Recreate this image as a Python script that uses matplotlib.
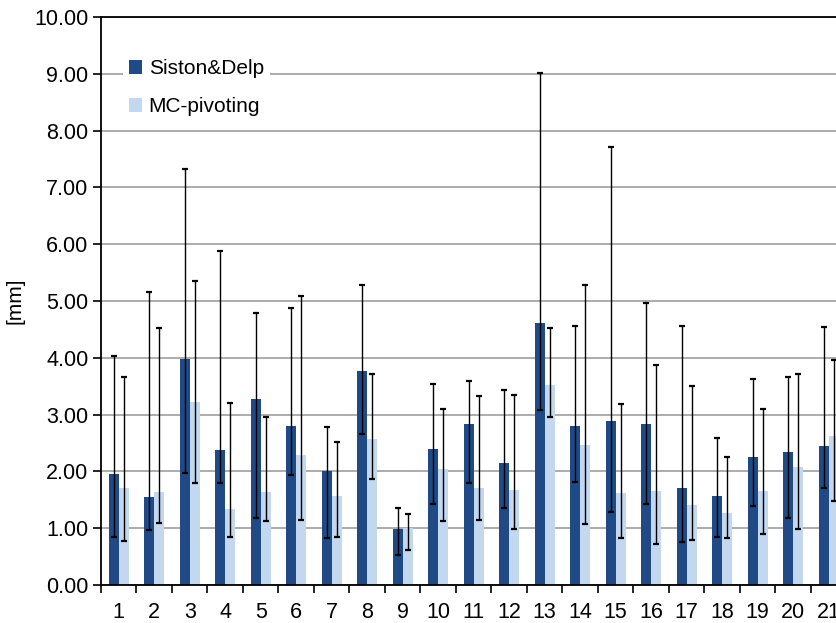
import matplotlib
matplotlib.use("Agg")
import matplotlib.pyplot as plt
import numpy as np
from matplotlib.patches import Patch

plt.rcParams['font.family'] = ['Liberation Sans', 'DejaVu Sans']

#* data (mean, lower end, upper end of the error bar)
subjects = [str(i) for i in range(1, 22)]

siston_mean = [1.95, 1.55, 3.98, 2.37, 3.28, 2.80, 2.01, 3.76, 0.99, 2.39, 2.83,
               2.14, 4.62, 2.80, 2.89, 2.83, 1.70, 1.57, 2.26, 2.34, 2.44]
siston_low = [0.84, 0.97, 1.97, 1.80, 1.18, 1.94, 0.82, 2.66, 0.52, 1.43, 1.79,
              1.36, 3.08, 1.81, 1.29, 1.43, 0.75, 0.85, 1.39, 1.18, 1.70]
siston_high = [4.03, 5.16, 7.33, 5.88, 4.79, 4.88, 2.79, 5.28, 1.35, 3.54, 3.60,
               3.43, 9.01, 4.56, 7.71, 4.97, 4.56, 2.58, 3.62, 3.66, 4.54]

mc_mean = [1.70, 1.64, 3.22, 1.34, 1.63, 2.28, 1.57, 2.57, 1.00, 2.04, 1.70,
           1.68, 3.52, 2.46, 1.62, 1.66, 1.41, 1.26, 1.66, 2.07, 2.63]
mc_low = [0.77, 1.10, 1.80, 0.84, 1.12, 1.14, 0.84, 1.87, 0.62, 1.12, 1.14,
          0.99, 2.95, 1.08, 0.82, 0.73, 0.79, 0.82, 0.89, 0.99, 1.48]
mc_high = [3.67, 4.53, 5.35, 3.21, 2.95, 5.09, 2.52, 3.71, 1.25, 3.10, 3.33,
           3.35, 4.52, 5.28, 3.19, 3.88, 3.50, 2.25, 3.10, 3.71, 3.97]

dark_blue = "#1f4a86"
light_blue = "#c3d7ef"

fig = plt.figure(figsize=(8.36, 6.23), dpi=100)
#* the right end of the plot runs past the picture edge, like the reference
ax = fig.add_axes([0.1208, 0.061, 0.8917, 0.9117])

x = np.arange(1, len(subjects) + 1)
w = 0.28

s_mean = np.array(siston_mean)
m_mean = np.array(mc_mean)
s_err = [s_mean - np.array(siston_low), np.array(siston_high) - s_mean]
m_err = [m_mean - np.array(mc_low), np.array(mc_high) - m_mean]

ax.bar(x - w / 2, s_mean, w, color=dark_blue, zorder=2)
ax.bar(x + w / 2, m_mean, w, color=light_blue, zorder=2)

ax.errorbar(x - w / 2, s_mean, yerr=s_err, fmt="none", ecolor="black",
            elinewidth=1.0, capsize=2.5, capthick=1.6, zorder=3)
ax.errorbar(x + w / 2, m_mean, yerr=m_err, fmt="none", ecolor="black",
            elinewidth=1.0, capsize=2.5, capthick=1.6, zorder=3)

ax.set_xlim(0.5, len(subjects) + 0.5)
ax.set_ylim(0, 10)
ax.set_yticks(np.arange(0, 11, 1))
ax.set_yticklabels([f"{v:.2f}" for v in np.arange(0, 11, 1)])
ax.set_xticks(x)
ax.set_xticklabels(subjects)
ax.set_xticks(np.arange(0.5, len(subjects) + 1, 1), minor=True)

ax.tick_params(axis="x", which="major", length=0, labelsize=15.5, pad=12)
ax.tick_params(axis="x", which="minor", length=6, width=1.2, direction="out")
ax.tick_params(axis="y", length=6, width=1.2, labelsize=15.5, pad=3)

ax.yaxis.grid(True, color="#a6a6a6", linewidth=1.3, zorder=0)
ax.set_axisbelow(True)

for side in ["left", "bottom", "top"]:
    ax.spines[side].set_color("black")
    ax.spines[side].set_linewidth(1.3)
ax.spines["right"].set_visible(False)

ax.set_ylabel("[mm]", fontsize=15, labelpad=7)

handles = [Patch(facecolor=dark_blue, label="Siston&Delp"),
           Patch(facecolor=light_blue, label="MC-pivoting")]
leg = ax.legend(handles=handles, loc="upper left", bbox_to_anchor=(0.015, 0.955),
                fontsize=15, frameon=True, fancybox=False, edgecolor="none",
                facecolor="white", framealpha=1.0, handlelength=0.65,
                handleheight=0.65, handletextpad=0.3, labelspacing=0.9,
                borderpad=0.3)

fig.savefig("out.png", dpi=100)
